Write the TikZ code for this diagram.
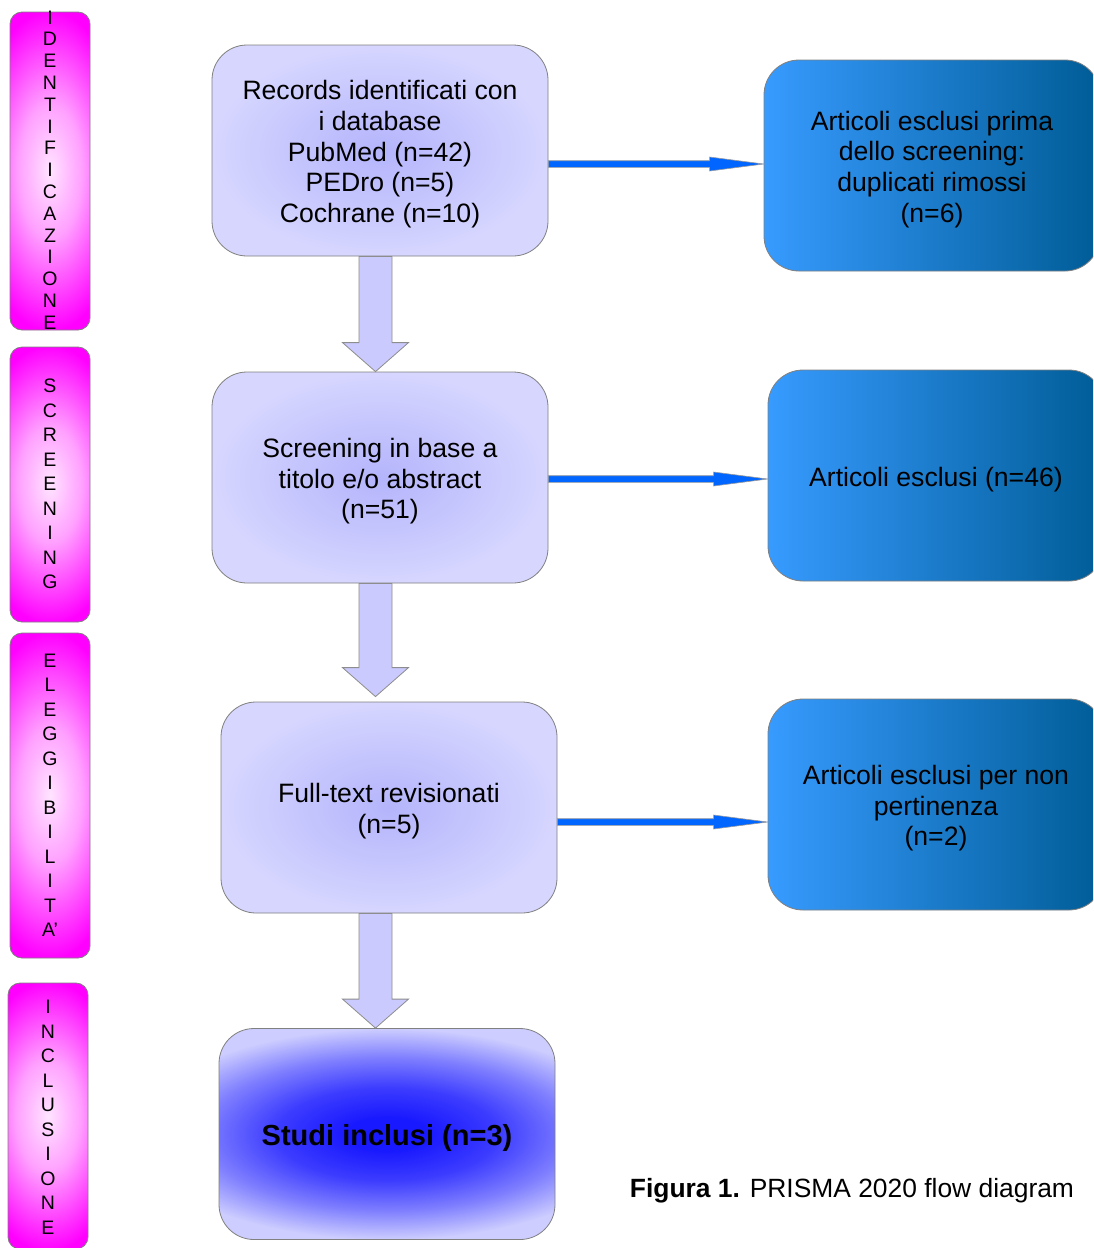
\documentclass[tikz,border=0pt]{standalone}
\usepackage{fontspec}
\setmainfont{Liberation Sans}
\usetikzlibrary{calc}
\definecolor{lavin}{RGB}{180,180,252}
\definecolor{lavout}{RGB}{214,214,255}
\definecolor{incin}{RGB}{25,25,255}
\definecolor{incdark}{RGB}{60,60,255}
\definecolor{incmid}{RGB}{125,125,255}
\definecolor{incout}{RGB}{205,205,255}
\definecolor{bluel}{RGB}{55,155,255}
\definecolor{bluer}{RGB}{0,92,150}
\definecolor{pinkin}{RGB}{255,228,255}
\definecolor{pinkmid}{RGB}{255,160,255}
\definecolor{pinkout}{RGB}{255,0,255}
\definecolor{harrowc}{RGB}{0,102,255}
\definecolor{varrowc}{RGB}{202,202,255}
\definecolor{edgec}{RGB}{128,128,128}
\pgfdeclareradialshading{lavshade}{\pgfpoint{0bp}{0bp}}{color(0bp)=(lavin); color(25bp)=(lavout); color(50bp)=(lavout)}
\pgfdeclareradialshading{inclshade}{\pgfpoint{0bp}{0bp}}{color(0bp)=(incin); color(4bp)=(incin); color(11bp)=(incdark); color(18bp)=(incmid); color(25bp)=(incout); color(50bp)=(incout)}
\pgfdeclareradialshading{pinkshade}{\pgfpoint{0bp}{0bp}}{color(0bp)=(pinkin); color(10bp)=(pinkmid); color(24bp)=(pinkout); color(50bp)=(pinkout)}
\newcommand\mylowstrut{\rule{0pt}{1em}}
\newcommand\myharrow[2]{%
  \filldraw[harrow] ($(#1)+(0,-3.3)$) -- ($(#2)+(-54,-3.3)$) -- ($(#2)+(-54,-7)$) -- (#2)
    -- ($(#2)+(-54,7)$) -- ($(#2)+(-54,3.3)$) -- ($(#1)+(0,3.3)$) -- cycle;}
\newcommand\myvarrow[2]{%
  \filldraw[varrow] ($(#1)+(-16.5,0)$) -- ($(#2)+(-16.5,-29)$) -- ($(#2)+(-33,-29)$) -- (#2)
    -- ($(#2)+(33,-29)$) -- ($(#2)+(16.5,-29)$) -- ($(#1)+(16.5,0)$) -- cycle;}
\begin{document}
\begin{tikzpicture}[x=1pt,y=-1pt,
  sidebar/.style={draw=edgec, line width=0.8pt, rounded corners=12pt, minimum width=80, inner sep=0pt,
    path picture={\shade[shading=pinkshade] ($(path picture bounding box.north west)+(-40,-8)$) rectangle ($(path picture bounding box.south east)+(40,8)$);}},
  sidelbl/.style={align=center, inner sep=0pt, font=\fontsize{19.5}{24.5}\selectfont},
  mainbox/.style={draw=edgec, line width=0.8pt, rounded corners=35pt, shade, shading=lavshade, minimum width=336, minimum height=211, align=center, inner sep=0pt, font=\fontsize{26.6}{30.7}\selectfont},
  inclbox/.style={draw=edgec, line width=0.8pt, rounded corners=35pt, minimum width=336, minimum height=211, align=center, inner sep=0pt, font=\bfseries\fontsize{29}{34}\selectfont,
    path picture={\shade[shading=inclshade] ($(path picture bounding box.north west)+(-84,0)$) rectangle ($(path picture bounding box.south east)+(84,0)$);}},
  rightbox/.style={draw=edgec, line width=0.8pt, rounded corners=35pt, left color=bluel, right color=bluer, minimum width=336, minimum height=211, align=center, inner sep=0pt, font=\fontsize{26.6}{30.7}\selectfont},
  harrow/.style={fill=harrowc, draw=edgec!80, line width=0.6pt},
  varrow/.style={fill=varrowc, draw=edgec!90, line width=0.8pt},
]
\useasboundingbox (0,0) rectangle (1093,1248);
\clip (0,0) rectangle (1093,1248);
\fill[white] (0,0) rectangle (1093,1248);

% side bars
\node[sidebar, minimum height=318] (s1) at (50,171) {};
\node[sidelbl, font=\fontsize{19.5}{21.8}\selectfont] (l1) at (50,170) {I\\D\\E\\N\\T\\I\\F\\I\\C\\A\\Z\\I\\O\\N\\E};
\node[sidebar, minimum height=275] (s2) at (50,484.5) {};
\node[sidelbl] (l2) at (50,484) {S\\C\\R\\E\\E\\N\\I\\N\\G};
\node[sidebar, minimum height=325] (s3) at (50,795.5) {};
\node[sidelbl] (l3) at (50,795.5) {E\\L\\E\\G\\G\\I\\B\\I\\L\\I\\T\\A'};
\node[sidebar, minimum height=266] (s4) at (48,1116) {};
\node[sidelbl] (l4) at (48,1117.5) {I\\N\\C\\L\\U\\S\\I\\O\\N\\E};

% main boxes
\node[mainbox] (b1) at (380,150.5) {\mylowstrut Records identificati con\\i database\\PubMed (n=42)\\PEDro (n=5)\\Cochrane (n=10)};
\node[mainbox] (b2) at (380,477.5) {\mylowstrut Screening in base a\\titolo e/o abstract\\(n=51)};
\node[mainbox] (b3) at (389,807.5) {\mylowstrut Full-text revisionati\\(n=5)};
\node[inclbox] (b4) at (387,1134) {\mylowstrut Studi inclusi (n=3)};

% right boxes
\node[rightbox] (r1) at (932,165.5) {\mylowstrut Articoli esclusi prima\\dello screening:\\duplicati rimossi\\(n=6)};
\node[rightbox] (r2) at (936,475.5) {\mylowstrut Articoli esclusi (n=46)};
\node[rightbox] (r3) at (936,804.5) {\mylowstrut Articoli esclusi per non\\pertinenza\\(n=2)};

% horizontal arrows
\coordinate (a1s) at ($(b1.east)+(0,13.5)$);
\coordinate (a1e) at (r1.west |- a1s);
\coordinate (a2s) at ($(b2.east)+(0,1.5)$);
\coordinate (a2e) at (r2.west |- a2s);
\coordinate (a3s) at ($(b3.east)+(0,14.5)$);
\coordinate (a3e) at (r3.west |- a3s);
\myharrow{a1s}{a1e}
\myharrow{a2s}{a2e}
\myharrow{a3s}{a3e}

% vertical block arrows
\coordinate (vx) at (375.5,0);
\coordinate (v2e) at ($(b3.north -| vx)+(0,-5)$);
\myvarrow{b1.south -| vx}{b2.north -| vx}
\myvarrow{b2.south -| vx}{v2e}
\myvarrow{b3.south -| vx}{b4.north -| vx}

% caption
\node[font=\fontsize{26.4}{31}\selectfont, inner sep=0pt] (cap) at (852,1190.5) {\textbf{Figura 1.} PRISMA 2020 flow diagram};
\end{tikzpicture}
\end{document}
